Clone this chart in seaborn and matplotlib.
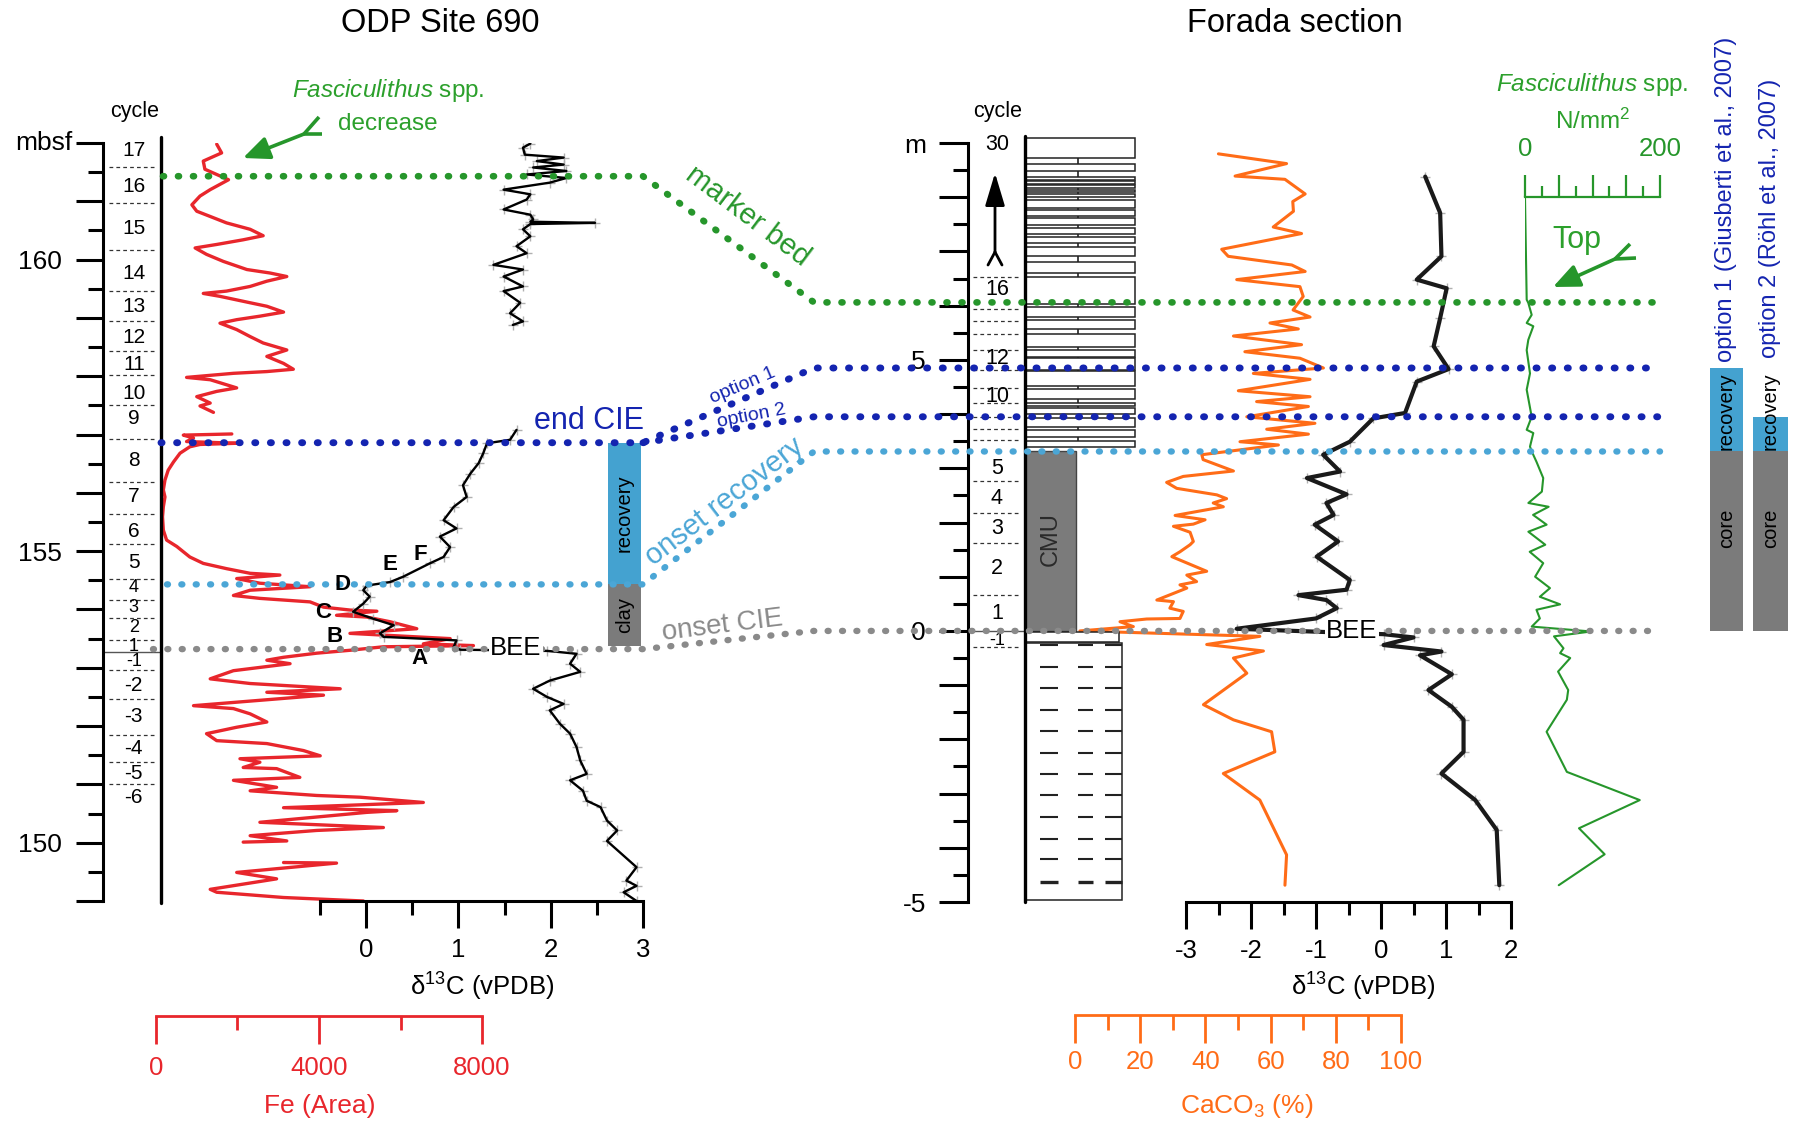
import numpy as np
import pandas as pd
import matplotlib
matplotlib.use("Agg")
import matplotlib.pyplot as plt
import seaborn as sns
from matplotlib.ticker import FixedLocator, FuncFormatter

sns.set_theme(style="ticks", rc={"axes.edgecolor": "black", "text.color": "black",
                                 "xtick.color": "black", "ytick.color": "black",
                                 "axes.labelcolor": "black"})
plt.rcParams["font.family"] = ["Liberation Sans", "DejaVu Sans"]
plt.rcParams["mathtext.fontset"] = "custom"
plt.rcParams["mathtext.rm"] = "Liberation Sans"
plt.rcParams["mathtext.it"] = "Liberation Sans:italic"
plt.rcParams["mathtext.bf"] = "Liberation Sans:bold"
plt.rcParams["axes.unicode_minus"] = False

# ---------------- DATA: ODP Site 690 ----------------
fe690_depth_a = [161.98, 161.83, 161.69, 161.55, 161.46, 161.37, 161.20, 161.09, 160.94, 160.83,
                 160.74, 160.63, 160.52, 160.41, 160.34, 160.26, 160.20, 160.09, 159.97, 159.83,
                 159.77, 159.71, 159.63, 159.54, 159.46, 159.42, 159.37, 159.26, 159.20, 159.10,
                 159.03, 158.97, 158.91, 158.80, 158.68, 158.57, 158.45, 158.34, 158.22, 158.12,
                 158.08, 158.05, 157.98, 157.94, 157.80, 157.74, 157.65, 157.54, 157.49, 157.38]
fe690_area_a = [1490, 1610, 1160, 1200, 1490, 1780, 1330, 1080, 880, 1000,
                1330, 1730, 2310, 2630, 2140, 1490, 960, 1240, 1650, 2230,
                2800, 3210, 2720, 2310, 1730, 1160, 1570, 2310, 2720, 3130,
                2550, 1980, 1570, 1980, 2310, 2630, 3210, 2720, 3130, 3370,
                2720, 1900, 750, 1330, 1980, 1490, 1000, 1330, 1080, 1410]
fe690_depth_b = [157.01, 156.99, 156.94, 156.88, 156.85, 156.83, 156.79, 156.68, 156.53, 156.39,
                 156.22, 156.05, 155.93, 155.76, 155.59, 155.36, 155.19, 155.08, 154.90, 154.79,
                 154.70, 154.62, 154.59, 154.53, 154.45, 154.39, 154.33, 154.24, 154.19, 154.13,
                 154.04, 153.99, 153.97, 153.90, 153.87, 153.79, 153.67, 153.59, 153.56, 153.50,
                 153.41, 153.38, 153.36, 153.30, 153.25, 153.18, 153.13, 153.07, 152.95, 152.81,
                 152.73, 152.64, 152.58, 152.53, 152.35, 152.30, 152.21, 152.07, 151.98, 151.87,
                 151.75, 151.70, 151.58, 151.49, 151.44, 151.38, 151.29, 151.27, 151.12, 151.07,
                 150.95, 150.89, 150.81, 150.78, 150.69, 150.60, 150.55, 150.52, 150.35, 150.26,
                 150.21, 150.12, 150.03, 150.01]
fe690_area_b = [1860, 670, 920, 750, 1980, 1080, 830, 590, 430, 300,
                220, 180, 220, 180, 160, 180, 260, 510, 830, 1160,
                1730, 2310, 3040, 1980, 2550, 3780, 2310, 1900, 2550, 3780,
                4110, 4760, 5420, 4430, 5170, 5740, 6400, 4760, 5580, 7220,
                6560, 7790, 5580, 4760, 3940, 3130, 2720, 3290, 1900, 1330,
                2310, 4520, 2720, 4110, 920, 1900, 2310, 2720, 1980, 1240,
                1490, 2720, 3620, 4030, 2060, 2550, 2140, 2960, 3530, 1900,
                2960, 2310, 3940, 5010, 6560, 3130, 5910, 5170, 2550, 5580,
                3940, 2310, 3210, 2140]
fe690_depth_c = [149.66, 149.65, 149.49, 149.38, 149.20, 149.15, 149.06, 149.00]
fe690_area_c = [3130, 4430, 1980, 2960, 1330, 1490, 3130, 5090]

d13c690_depth_a = [161.99, 161.92, 161.80, 161.75, 161.69, 161.63, 161.58, 161.52, 161.46, 161.40,
                   161.32, 161.20, 161.12, 161.03, 160.86, 160.77, 160.69, 160.65, 160.63, 160.61,
                   160.52, 160.40, 160.23, 160.11, 159.91, 159.83, 159.71, 159.54, 159.46, 159.26,
                   159.08, 158.94, 158.88]
d13c690_a = [1.78, 1.70, 1.72, 2.14, 1.85, 2.14, 1.81, 2.17, 1.74, 2.17,
             1.99, 1.49, 1.78, 1.74, 1.49, 1.78, 1.81, 1.78, 2.48, 1.78,
             1.70, 1.78, 1.63, 1.74, 1.38, 1.70, 1.49, 1.70, 1.49, 1.67,
             1.56, 1.70, 1.59]
d13c690_depth_b = [157.08, 156.91, 156.85, 156.68, 156.51, 156.33, 156.13, 155.93, 155.76, 155.53,
                   155.39, 155.25, 155.07, 154.90, 154.79, 154.56, 154.47, 154.41, 154.33, 154.22,
                   154.10, 153.96, 153.84, 153.73, 153.59, 153.53, 153.47, 153.36, 153.31, 153.29,
                   153.24, 153.07, 152.93, 152.78, 152.64, 152.50, 152.38, 152.27, 152.04, 151.87,
                   151.64, 151.41, 151.18, 151.07, 150.89, 150.72, 150.61, 150.38, 150.21, 150.03,
                   149.58, 149.35, 149.26, 149.15, 149.00]
d13c690_b = [1.63, 1.56, 1.31, 1.27, 1.22, 1.13, 1.05, 1.09, 0.95, 0.84,
             0.98, 0.80, 0.91, 0.84, 0.69, 0.40, 0.26, 0.01, -0.03, 0.04,
             -0.03, -0.14, 0.08, 0.30, 0.15, 0.19, 0.98, 0.95, 1.02, 1.96,
             2.28, 2.21, 2.32, 1.99, 1.81, 1.96, 2.14, 1.99, 2.10, 2.21,
             2.28, 2.32, 2.39, 2.21, 2.35, 2.39, 2.54, 2.61, 2.72, 2.61,
             2.93, 2.82, 2.93, 2.79, 2.93]

cycle690_bounds = [161.59, 160.97, 160.17, 159.47, 158.94, 158.44, 158.02, 157.50, 156.92, 156.18,
                   155.63, 155.12, 154.53, 154.17, 153.86, 153.48, 152.97, 152.47, 151.85, 151.38, 151.00]
cycle690_base = 153.27
cycle690_labels = ["17", "16", "15", "14", "13", "12", "11", "10", "9", "8", "7", "6", "5",
                   "4", "3", "2", "1", "-1", "-2", "-3", "-4", "-5", "-6"]
cycle690_label_depth = [161.87, 161.25, 160.53, 159.77, 159.20, 158.67, 158.20, 157.71, 157.28,
                        156.56, 155.93, 155.34, 154.81, 154.37, 154.03, 153.69, 153.37, 153.11,
                        152.70, 152.16, 151.61, 151.19, 150.78]
phase690_names = ["recovery", "clay"]
phase690_top = [156.86, 154.43]
phase690_base = [154.43, 153.38]

# ---------------- DATA: Forada section ----------------
caco3_depth = [8.80, 8.62, 8.39, 8.33, 8.06, 7.92, 7.74, 7.45, 7.33, 7.04,
               6.91, 6.75, 6.63, 6.48, 6.35, 6.17, 5.92, 5.79, 5.68, 5.57,
               5.44, 5.28, 5.15, 5.03, 4.85, 4.75, 4.64, 4.43, 4.32, 4.23,
               4.14, 3.95, 3.83, 3.72, 3.63, 3.49, 3.43, 3.25, 3.16, 2.95,
               2.85, 2.74, 2.63, 2.51, 2.44, 2.36, 2.29, 2.13, 2.05, 1.97,
               1.93, 1.82, 1.65, 1.59, 1.46, 1.37, 1.10, 1.03, 0.91, 0.85,
               0.79, 0.57, 0.54, 0.42, 0.36, 0.23, 0.22, 0.17, 0.08, 0.00,
               -0.10, -0.25, -0.37, -0.50, -0.78, -1.36, -1.64, -1.86, -2.23, -2.63,
               -3.12, -4.13, -4.69]
caco3_pct = [44.0, 64.9, 49.1, 64.4, 70.6, 66.8, 67.0, 60.8, 69.5, 45.0,
             47.0, 66.5, 70.6, 49.6, 69.0, 70.0, 66.9, 72.1, 59.8, 68.5,
             48.6, 69.5, 52.1, 69.0, 76.2, 54.7, 72.1, 50.1, 72.1, 55.7,
             71.6, 52.7, 73.6, 58.8, 71.6, 50.6, 62.4, 38.9, 39.3, 48.6,
             33.2, 28.1, 31.2, 43.5, 46.5, 42.4, 45.5, 30.7, 39.9, 36.3,
             30.2, 35.3, 36.3, 35.3, 32.2, 29.7, 40.4, 34.3, 37.3, 32.2,
             34.3, 25.1, 30.2, 29.1, 33.2, 32.2, 22.0, 13.8, 17.9, 1.5,
             56.7, 40.4, 57.8, 48.6, 52.7, 39.4, 48.6, 60.3, 61.3, 45.5,
             56.7, 64.9, 64.4]
d13c_forada_depth = [8.38, 7.71, 6.91, 6.48, 6.32, 5.77, 5.25, 4.83, 4.60, 4.02,
                     3.92, 3.49, 3.25, 2.94, 2.82, 2.52, 2.36, 2.14, 1.96, 1.65,
                     1.37, 0.94, 0.76, 0.66, 0.57, 0.42, 0.23, 0.04, -0.06, -0.12,
                     -0.26, -0.38, -0.45, -0.80, -1.09, -1.40, -1.64, -2.23, -2.63, -3.12,
                     -3.67, -4.69]
d13c_forada = [0.68, 0.91, 0.93, 0.55, 1.01, 0.91, 0.81, 1.04, 0.55, 0.37,
               -0.12, -0.48, -0.89, -0.63, -1.14, -0.53, -0.84, -0.73, -1.02, -0.66,
               -0.99, -0.48, -0.53, -1.27, -0.84, -0.68, -1.00, -2.22, 0.04, 0.50,
               0.04, 0.93, 0.60, 1.09, 0.73, 1.09, 1.27, 1.27, 0.93, 1.45,
               1.78, 1.82]
fas_depth = [8.00, 6.11, 6.05, 5.83, 5.68, 5.62, 5.37, 5.18, 4.75, 4.45,
             3.95, 3.71, 3.65, 3.40, 3.31, 3.12, 2.82, 2.57, 2.36, 2.29,
             2.14, 1.96, 1.83, 1.59, 1.46, 1.25, 1.00, 0.79, 0.63, 0.49,
             0.39, 0.23, 0.08, -0.01, -0.10, -0.32, -0.41, -0.50, -0.75, -1.09,
             -1.27, -1.86, -2.60, -3.12, -3.64, -4.12, -4.69]
fas_n = [0, 2.5, 4.9, 9.9, 2.5, 12.3, 4.9, 2.5, 7.4, 2.5,
         9.9, 2.5, 12.3, 7.4, 10, 17, 27, 25, 5, 35,
         12, 32, 5, 30, 7, 27, 15, 37, 22, 52,
         17, 22, 10, 98, 43, 57, 52, 67, 49, 64,
         62, 32, 62, 170, 80, 118, 50]

bed_top = [9.10, 8.62, 8.37, 8.29, 8.22, 8.14, 8.06, 7.95, 7.76, 7.61, 7.43, 7.27, 7.08, 6.80,
           6.52, 5.98, 5.74, 5.48, 5.19, 5.03, 4.79, 4.46, 4.20, 4.11, 3.92, 3.71, 3.51]
bed_base = [8.72, 8.49, 8.32, 8.25, 8.17, 8.09, 8.00, 7.80, 7.66, 7.49, 7.32, 7.15, 6.91, 6.61,
            6.03, 5.79, 5.57, 5.23, 5.06, 4.82, 4.51, 4.27, 4.14, 4.00, 3.76, 3.57, 3.39]
cmu_top, cmu_base = 3.31, 0.00
marl_top, marl_base = -0.22, -4.97
marl_dash_depth = [-0.26, -0.66, -1.06, -1.46, -1.85, -2.25, -2.64, -3.03, -3.43, -3.83, -4.21, -4.63]

cycleF_bounds = [6.52, 5.94, 5.71, 5.48, 5.19, 4.82, 4.48, 4.20, 3.95, 3.72, 3.52, 2.76, 2.17, 1.62, 0.66, -0.29]
cycleF_labels = ["30", "16", "12", "10", "5", "4", "3", "2", "1", "-1"]
cycleF_label_depth = [8.97, 6.29, 5.03, 4.32, 3.00, 2.45, 1.89, 1.16, 0.33, -0.17]

option_names = ["option 1 (Giusberti et al., 2007)", "option 2 (Röhl et al., 2007)"]
option_recovery_top = [4.85, 3.95]
option_core_top = [3.31, 3.31]

tie_690 = [161.43, 156.86, 156.86, 154.43, 153.32]
tie_forada = [6.06, 4.85, 3.95, 3.31, 0.00]

# ---------------- STYLE ----------------
RED = "#e8262c"; ORANGE = "#ff6c17"; GREEN = "#26962b"; GREEN_T = "#2ca02c"
DBLUE = "#1424b0"; LBLUE = "#4ba6d6"; GREY = "#8a8a8a"; RECOV = "#44a2d0"; CORE = "#7b7b7b"

W, H = 1797, 1123
fig = plt.figure(figsize=(W / 100, H / 100), dpi=100)
fig.patch.set_facecolor("white")


def px_axes(x0, y0, x1, y1):
    a = fig.add_axes([x0 / W, 1 - y1 / H, (x1 - x0) / W, (y1 - y0) / H])
    a.patch.set_visible(False)
    return a


# ================= LEFT PANEL =================
axL = px_axes(103, 143, 643, 901)
axFe = axL.twiny()
axFe.patch.set_visible(False)
axL.set_zorder(3)
axFe.set_zorder(2)

df_fe = pd.DataFrame({"depth": fe690_depth_a + fe690_depth_b + fe690_depth_c,
                      "fe": fe690_area_a + fe690_area_b + fe690_area_c,
                      "seg": [0] * len(fe690_depth_a) + [1] * len(fe690_depth_b) + [2] * len(fe690_depth_c)})
sns.lineplot(data=df_fe, x="fe", y="depth", units="seg", estimator=None, sort=False,
             ax=axFe, color=RED, linewidth=2.4)

df_d690 = pd.DataFrame({"depth": d13c690_depth_a + d13c690_depth_b,
                        "d13c": d13c690_a + d13c690_b,
                        "seg": [0] * len(d13c690_depth_a) + [1] * len(d13c690_depth_b)})
sns.scatterplot(data=df_d690, x="d13c", y="depth", ax=axL, marker="+", color="#b0b0b0",
                s=55, linewidth=1.0, zorder=1)
sns.lineplot(data=df_d690, x="d13c", y="depth", units="seg", estimator=None, sort=False,
             ax=axL, color="black", linewidth=1.7, zorder=2)

# phase bar (recovery / clay)
axL.bar([2.80, 2.80], [t - b for t, b in zip(phase690_top, phase690_base)], bottom=phase690_base,
        width=0.357, color=[RECOV, CORE], linewidth=0, zorder=0.5)
for nm, t, b in zip(phase690_names, phase690_top, phase690_base):
    axL.text(2.80, (t + b) / 2, nm, rotation=90, ha="center", va="center", fontsize=14.5, zorder=4)

# cycles
tL = axL.get_yaxis_transform()
axL.hlines(cycle690_bounds, 0.011, 0.094, transform=tL, colors="#333333",
           linestyles=(0, (3, 2.5)), linewidth=0.9)
axL.hlines([cycle690_base], 0.0, 0.107, transform=tL, colors="#555555", linewidth=1.0)
axL.plot([0.107, 0.107], [-0.002, 1.008], transform=axL.transAxes, color="black", lw=2.4, clip_on=False)
for lab, d in zip(cycle690_labels, cycle690_label_depth):
    fs = 13 if lab in ("4", "3", "2", "1", "-1") else 15
    axL.text(0.057, d, lab, transform=tL, ha="center", va="center", fontsize=fs)

# axes styling left
axL.set_xlim(-2.849, 3.0)
axL.set_ylim(149, 162)
axFe.set_xlim(-1300.6, 11950.9)
axL.set_xlabel(""); axL.set_ylabel(""); axFe.set_xlabel(""); axFe.set_ylabel("")
for s in ["top", "right"]:
    axL.spines[s].set_visible(False)
axL.spines["left"].set_linewidth(2.2)
axL.spines["bottom"].set_linewidth(2.2)
axL.spines["bottom"].set_bounds(-0.5, 3)
axL.yaxis.set_major_locator(FixedLocator(np.arange(149, 163)))
axL.yaxis.set_minor_locator(FixedLocator(np.arange(149.5, 162, 1.0)))
axL.yaxis.set_major_formatter(FuncFormatter(
    lambda v, p: f"{int(round(v))}" if (int(round(v)) % 5 == 0 and v < 161.5) else ""))
axL.tick_params(axis="y", which="major", length=19.4, width=2.2, labelsize=19, pad=10,
                direction="out", left=True, right=False)
axL.tick_params(axis="y", which="minor", length=11, width=2.2, direction="out", left=True, right=False)
axL.xaxis.set_major_locator(FixedLocator([0, 1, 2, 3]))
axL.xaxis.set_minor_locator(FixedLocator([-0.5, 0.5, 1.5, 2.5]))
axL.xaxis.set_major_formatter(FuncFormatter(lambda v, p: f"{v:g}"))
axL.tick_params(axis="x", which="major", length=19.5, width=2.2, labelsize=18.5, pad=7,
                direction="out", bottom=True, top=False)
axL.tick_params(axis="x", which="minor", length=10, width=2.2, direction="out", bottom=True, top=False)

axFe.xaxis.set_ticks_position("bottom")
axFe.spines["bottom"].set_position(("outward", 82.8))
for s in ["top", "left", "right"]:
    axFe.spines[s].set_visible(False)
axFe.spines["bottom"].set_bounds(0, 8000)
axFe.spines["bottom"].set_color(RED)
axFe.spines["bottom"].set_linewidth(2.0)
axFe.xaxis.set_major_locator(FixedLocator([0, 4000, 8000]))
axFe.xaxis.set_minor_locator(FixedLocator([2000, 6000]))
axFe.xaxis.set_major_formatter(FuncFormatter(lambda v, p: f"{v:.0f}"))
axFe.tick_params(axis="x", which="major", length=20, width=2.0, color=RED, labelcolor=RED,
                 labelsize=18.5, pad=9, bottom=True, top=False, labelbottom=True, labeltop=False)
axFe.tick_params(axis="x", which="minor", length=10, width=2.0, color=RED, bottom=True, top=False)
axFe.tick_params(axis="y", left=False, right=False, labelleft=False, labelright=False)

# ================= RIGHT PANEL =================
axR = px_axes(968, 143, 1511, 902)
axCa = axR.twiny()
axCa.patch.set_visible(False)
axLith = px_axes(1025, 143, 1135, 902)
axFas = px_axes(1525, 143, 1660, 902)
axOpt = px_axes(1700, 143, 1797, 902)

df_ca = pd.DataFrame({"depth": caco3_depth, "caco3": caco3_pct})
sns.lineplot(data=df_ca, x="caco3", y="depth", estimator=None, sort=False, ax=axCa,
             color=ORANGE, linewidth=2.2)
df_dF = pd.DataFrame({"depth": d13c_forada_depth, "d13c": d13c_forada})
sns.scatterplot(data=df_dF, x="d13c", y="depth", ax=axR, marker="+", color="#b0b0b0",
                s=45, linewidth=1.0, zorder=1)
sns.lineplot(data=df_dF, x="d13c", y="depth", estimator=None, sort=False, ax=axR,
             color="#1a1a1a", linewidth=3.0, zorder=2)
df_fas = pd.DataFrame({"depth": fas_depth, "n": fas_n})
sns.lineplot(data=df_fas, x="n", y="depth", estimator=None, sort=False, ax=axFas,
             color=GREEN, linewidth=1.5)

# lithology column
axLith.bar([0] * len(bed_top), [t - b for t, b in zip(bed_top, bed_base)], bottom=bed_base,
           width=1.0, align="edge", facecolor="white", edgecolor="#222222", linewidth=1.1, clip_on=False)
gap_lo = bed_base[:-1]
gap_hi = bed_top[1:]
axLith.vlines([0.48] * len(gap_lo), gap_hi, gap_lo, colors="#222222", linewidth=1.2)
axLith.bar([0], [cmu_top - cmu_base], bottom=[cmu_base], width=0.46, align="edge",
           color="#7b7b7b", edgecolor="#444444", linewidth=1.0)
axLith.text(0.23, 1.70, "CMU", rotation=90, ha="center", va="center", fontsize=17, color="#2a2a2a")
axLith.bar([0], [0.18], bottom=[-0.20], width=0.85, align="edge", facecolor="white",
           edgecolor="#222222", linewidth=1.1)
axLith.bar([0], [marl_top - marl_base], bottom=[marl_base], width=0.88, align="edge",
           facecolor="white", edgecolor="#222222", linewidth=1.1)
for k, d in enumerate(marl_dash_depth):
    lw = 2.4 if k == len(marl_dash_depth) - 1 else 1.5
    for x0, x1 in [(0.14, 0.30), (0.48, 0.62), (0.73, 0.88)]:
        axLith.plot([x0, x1], [d, d], color="#222222", lw=lw, solid_capstyle="butt")
axLith.plot([0, 0], [-5.0, 9.12], color="black", lw=2.4, clip_on=False)
axLith.set_xlim(0, 1)
axLith.set_ylim(-5, 9)
axLith.axis("off")

# cycles right
tR = axR.get_yaxis_transform()
axR.hlines(cycleF_bounds, 0.009, 0.096, transform=tR, colors="#333333",
           linestyles=(0, (3, 2.5)), linewidth=0.9)
axR.hlines([0.0], 0.0, 0.105, transform=tR, colors="#555555", linewidth=1.0)
for lab, d in zip(cycleF_labels, cycleF_label_depth):
    fs = 13 if lab == "-1" else 15.5
    axR.text(0.0534, d, lab, transform=tR, ha="center", va="center", fontsize=fs)

axR.set_xlim(-6.354, 2)
axR.set_ylim(-5, 9)
axCa.set_xlim(-32.82, 133.74)
for a in (axR, axCa, axFas):
    a.set_xlabel(""); a.set_ylabel("")
for s in ["top", "right"]:
    axR.spines[s].set_visible(False)
axR.spines["left"].set_linewidth(2.2)
axR.spines["bottom"].set_linewidth(2.2)
axR.spines["bottom"].set_bounds(-3, 2)
axR.yaxis.set_major_locator(FixedLocator(np.arange(-5, 10)))
axR.yaxis.set_minor_locator(FixedLocator(np.arange(-4.5, 9, 1.0)))
axR.yaxis.set_major_formatter(FuncFormatter(
    lambda v, p: "m" if round(v) == 9 else (f"{int(round(v))}" if int(round(v)) % 5 == 0 else "")))
axR.tick_params(axis="y", which="major", length=21, width=2.2, labelsize=19, pad=9.4,
                direction="out", left=True, right=False)
axR.tick_params(axis="y", which="minor", length=10.8, width=2.2, direction="out", left=True, right=False)
axR.xaxis.set_major_locator(FixedLocator([-3, -2, -1, 0, 1, 2]))
axR.xaxis.set_minor_locator(FixedLocator([-2.5, -1.5, -0.5, 0.5, 1.5]))
axR.xaxis.set_major_formatter(FuncFormatter(lambda v, p: f"{v:g}"))
axR.tick_params(axis="x", which="major", length=19.5, width=2.2, labelsize=18.5, pad=7,
                direction="out", bottom=True, top=False)
axR.tick_params(axis="x", which="minor", length=9.5, width=2.2, direction="out", bottom=True, top=False)

axCa.xaxis.set_ticks_position("bottom")
axCa.spines["bottom"].set_position(("outward", 81.4))
for s in ["top", "left", "right"]:
    axCa.spines[s].set_visible(False)
axCa.spines["bottom"].set_bounds(0, 100)
axCa.spines["bottom"].set_color(ORANGE)
axCa.spines["bottom"].set_linewidth(2.0)
axCa.xaxis.set_major_locator(FixedLocator([0, 20, 40, 60, 80, 100]))
axCa.xaxis.set_minor_locator(FixedLocator([10, 30, 50, 70, 90]))
axCa.xaxis.set_major_formatter(FuncFormatter(lambda v, p: f"{v:.0f}"))
axCa.tick_params(axis="x", which="major", length=20, width=2.0, color=ORANGE, labelcolor=ORANGE,
                 labelsize=18.5, pad=5, bottom=True, top=False, labelbottom=True, labeltop=False)
axCa.tick_params(axis="x", which="minor", length=10.8, width=2.0, color=ORANGE, bottom=True, top=False)
axCa.tick_params(axis="y", left=False, right=False, labelleft=False, labelright=False)

# Fasciculithus axis
axFas.set_xlim(0, 200)
axFas.set_ylim(-5, 9)
for s in ["left", "right", "bottom"]:
    axFas.spines[s].set_visible(False)
axFas.spines["top"].set_position(("data", 8))
axFas.spines["top"].set_bounds(0, 200)
axFas.spines["top"].set_color(GREEN)
axFas.spines["top"].set_linewidth(1.6)
axFas.xaxis.set_ticks_position("top")
axFas.xaxis.set_major_locator(FixedLocator([0, 50, 100, 150, 200]))
axFas.xaxis.set_minor_locator(FixedLocator([25, 75, 125, 175]))
axFas.xaxis.set_major_formatter(FuncFormatter(lambda v, p: f"{v:.0f}" if v in (0, 200) else ""))
axFas.tick_params(axis="x", which="major", length=16, width=1.6, color=GREEN, labelcolor=GREEN,
                  labelsize=18.5, pad=10, top=True, bottom=False, labeltop=True, labelbottom=False,
                  direction="out")
axFas.tick_params(axis="x", which="minor", length=8, width=1.6, color=GREEN, top=True, bottom=False,
                  direction="out")
axFas.tick_params(axis="y", left=False, right=False, labelleft=False, labelright=False)

# option bars
axOpt.set_xlim(0, 97)
axOpt.set_ylim(-5, 9)
axOpt.axis("off")
opt_x = [26.5, 70.5]
opt_w = [33, 35]
axOpt.bar(opt_x, [r - c for r, c in zip(option_recovery_top, option_core_top)], bottom=option_core_top,
          width=opt_w, color=RECOV, linewidth=0)
axOpt.bar(opt_x, option_core_top, bottom=[0, 0], width=opt_w, color=CORE, linewidth=0)
for x in opt_x:
    axOpt.text(x, 4.05, "recovery", rotation=90, ha="center", va="center", fontsize=14.5)
    axOpt.text(x, 1.90, "core", rotation=90, ha="center", va="center", fontsize=14.5)

# ================= OVERLAY (annotations / correlation lines) =================
ax_ov = fig.add_axes([0, 0, 1, 1])
ax_ov.set_xlim(0, W)
ax_ov.set_ylim(H, 0)
ax_ov.axis("off")
ax_ov.set_zorder(10)
ax_ov.patch.set_visible(False)


def yl(d):
    return H - axL.transData.transform((0, d))[1]


def yr(d):
    return H - axR.transData.transform((0, d))[1]


tie_colors = [GREEN, DBLUE, DBLUE, LBLUE, GREY]
tie_xstart = [163, 161, 643, 167, 153]
tie_xend = [1660, 1660, 1660, 1660, 1655]
tie_lw = [4.8, 5.0, 5.0, 4.6, 4.6]
for dl, dr, c, xs, xe, lw in zip(tie_690, tie_forada, tie_colors, tie_xstart, tie_xend, tie_lw):
    xx = [xs, 643, 814, xe] if xs < 643 else [643, 814, xe]
    yy = [yl(dl), yl(dl), yr(dr), yr(dr)] if xs < 643 else [yl(dl), yr(dr), yr(dr)]
    ax_ov.plot(xx, yy, color=c, lw=lw, linestyle=(0, (0.15, 2.1)), dash_capstyle="round", zorder=2)


def T(x, y, s, **kw):
    kw.setdefault("ha", "center")
    kw.setdefault("va", "center")
    return ax_ov.text(x, y, s, **kw)


T(440, 24, "ODP Site 690", fontsize=23.5)
T(1295, 24, "Forada section", fontsize=23.5)
T(135, 111, "cycle", fontsize=15.5)
T(998, 111, "cycle", fontsize=15.5)
T(72, 143, "mbsf", fontsize=19, ha="right")
T(388, 91, r"$\mathit{Fasciculithus}$ spp.", fontsize=17.5, color=GREEN_T)
T(388, 124, "decrease", fontsize=17.5, color=GREEN_T)
T(589, 421, "end CIE", fontsize=22, color=DBLUE)
T(724, 502, "onset recovery", fontsize=21, color=LBLUE, rotation=37.5)
T(722, 626, "onset CIE", fontsize=20, color=GREY, rotation=7)
T(748, 216, "marker bed", fontsize=21, color=GREEN, rotation=-37)
T(743, 386, "option 1", fontsize=14, color=DBLUE, rotation=23)
T(751, 416, "option 2", fontsize=14, color=DBLUE, rotation=11)
for lab, (x, y) in zip("ABCDEF", [(420, 659), (335, 637), (323, 613), (343, 585), (390, 565), (420, 555)]):
    T(x, y, lab, fontsize=16, fontweight="bold", zorder=5)
bb = dict(boxstyle="square,pad=0.05", facecolor="white", edgecolor="none")
T(516, 648, "BEE", fontsize=18.5, bbox=bb, zorder=6)
T(1352, 631, "BEE", fontsize=18.5, bbox=bb, zorder=6)
T(482, 987, "δ$^{13}$C (vPDB)", fontsize=18.5)
T(1363, 987, "δ$^{13}$C (vPDB)", fontsize=18.5)
T(320, 1106, "Fe (Area)", fontsize=19, color=RED)
T(1247, 1106, "CaCO$_3$ (%)", fontsize=19, color=ORANGE)
T(1592, 84, r"$\mathit{Fasciculithus}$ spp.", fontsize=17.5, color=GREEN_T)
T(1593, 121, "N/mm$^2$", fontsize=17.5, color=GREEN_T)
T(1577, 240, "Top", fontsize=22, color=GREEN_T)
T(1726, 362, option_names[0], fontsize=17, color=DBLUE, rotation=90, va="bottom")
T(1770, 358, option_names[1], fontsize=17, color=DBLUE, rotation=90, va="bottom")

# arrows
ap = dict(arrowstyle="-|>,head_length=0.8,head_width=0.35", color=GREEN, lw=2.6,
          shrinkA=0, shrinkB=0, mutation_scale=20)
ax_ov.annotate("", xy=(243, 158), xytext=(304, 134), arrowprops=ap)
ax_ov.plot([304, 322], [134, 134], color=GREEN, lw=2.6, solid_capstyle="butt")
ax_ov.plot([304, 319], [134, 117], color=GREEN, lw=2.6, solid_capstyle="butt")
ax_ov.annotate("", xy=(1553, 287), xytext=(1615, 259), arrowprops=ap)
ax_ov.plot([1615, 1636], [259, 258], color=GREEN, lw=2.6, solid_capstyle="butt")
ax_ov.plot([1615, 1630], [259, 244], color=GREEN, lw=2.6, solid_capstyle="butt")
apk = dict(arrowstyle="-|>,head_length=1.0,head_width=0.3", color="black", lw=2.0,
           shrinkA=0, shrinkB=0, mutation_scale=20)
ax_ov.annotate("", xy=(995, 173), xytext=(995, 252), arrowprops=apk)
ax_ov.plot([995, 988], [252, 265], color="black", lw=2.0)
ax_ov.plot([995, 1002], [252, 265], color="black", lw=2.0)

fig.savefig("out.png", dpi=100, facecolor="white")
